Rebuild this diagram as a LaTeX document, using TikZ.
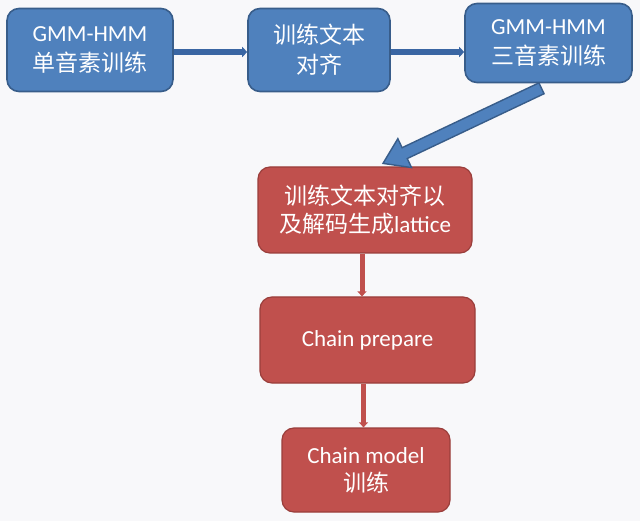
\documentclass[tikz,border=0pt]{standalone}
\usepackage{fontspec}
\setmainfont{Carlito}
\newfontfamily\cjk{Noto Sans CJK SC}
\usetikzlibrary{arrows.meta,calc}
\definecolor{bgc}{HTML}{F8F8FA}
\definecolor{bfill}{HTML}{4F81BD}
\definecolor{bline}{HTML}{385D8A}
\definecolor{bconn}{HTML}{3A66A3}
\definecolor{rfill}{HTML}{C0504D}
\definecolor{rline}{HTML}{9A3E3B}
\tikzset{
  bluebox/.style={rectangle, rounded corners=12pt, fill=bfill, draw=bline, line width=1.6pt,
    text=white, align=center, font=\fontsize{23}{30}\selectfont, inner sep=0pt},
  redbox/.style={rectangle, rounded corners=12pt, fill=rfill, draw=rline, line width=1.2pt,
    text=white, align=center, font=\fontsize{23}{28}\selectfont, inner sep=0pt},
  blueconn/.style={draw=bconn, line width=6pt, -{Triangle[length=5pt,width=10pt]}},
  redconn/.style={draw=rfill, line width=5pt, -{Triangle[length=5pt,width=9pt]}},
}
\begin{document}
\begin{tikzpicture}[x=1pt,y=-1pt]
\fill[bgc] (0,0) rectangle (640,521);
\useasboundingbox (0,0) rectangle (640,521);
\node[bluebox, minimum width=166pt, minimum height=83pt] (b1) at (90,50) {GMM-HMM\\{\cjk 单音素训练}};
\node[bluebox, minimum width=142pt, minimum height=83pt] (b2) at (319,50) {{\cjk 训练文本}\\{\cjk 对齐}};
\node[bluebox, minimum width=167pt, minimum height=79pt] (b3) at (548.5,43) {GMM-HMM\\{\cjk 三音素训练}};
\node[redbox, minimum width=214pt, minimum height=86pt] (r1) at (365,210) {{\cjk 训练文本对齐以}\\{\cjk 及解码生成}lattice};
\node[redbox, minimum width=215pt, minimum height=86pt] (r2) at (367.5,340) {Chain prepare};
\node[redbox, minimum width=168pt, minimum height=84pt] (r3) at (366,470) {Chain model\\{\cjk 训练}};
\draw[blueconn] ([yshift=-2pt]b1.east) -- ([yshift=-2pt]b2.west);
\draw[blueconn] ([yshift=-2pt]b2.east) -- ([yshift=-2pt]b2.east -| b3.west);
\draw[redconn] ([xshift=-3pt]r1.south) -- ([xshift=-3pt]r1.south |- r2.north);
\draw[redconn] ([xshift=-4pt]r2.south) -- ([xshift=-4pt]r2.south |- r3.north);
\coordinate (s) at ($(b3.south)+(-7,5)$);
\coordinate (t) at ($(r1.north)+(18,-3)$);
\coordinate (hb) at ($(t)!24pt!(s)$);
\draw[fill=bfill, draw=bline, line width=1.4pt, line join=miter]
  ($(s)!6pt!90:(t)$) -- ($(hb)!6pt!90:(t)$) -- ($(hb)!16pt!90:(t)$) -- (t)
  -- ($(hb)!16pt!-90:(t)$) -- ($(hb)!6pt!-90:(t)$) -- ($(s)!6pt!-90:(t)$) -- cycle;
\end{tikzpicture}
\end{document}
